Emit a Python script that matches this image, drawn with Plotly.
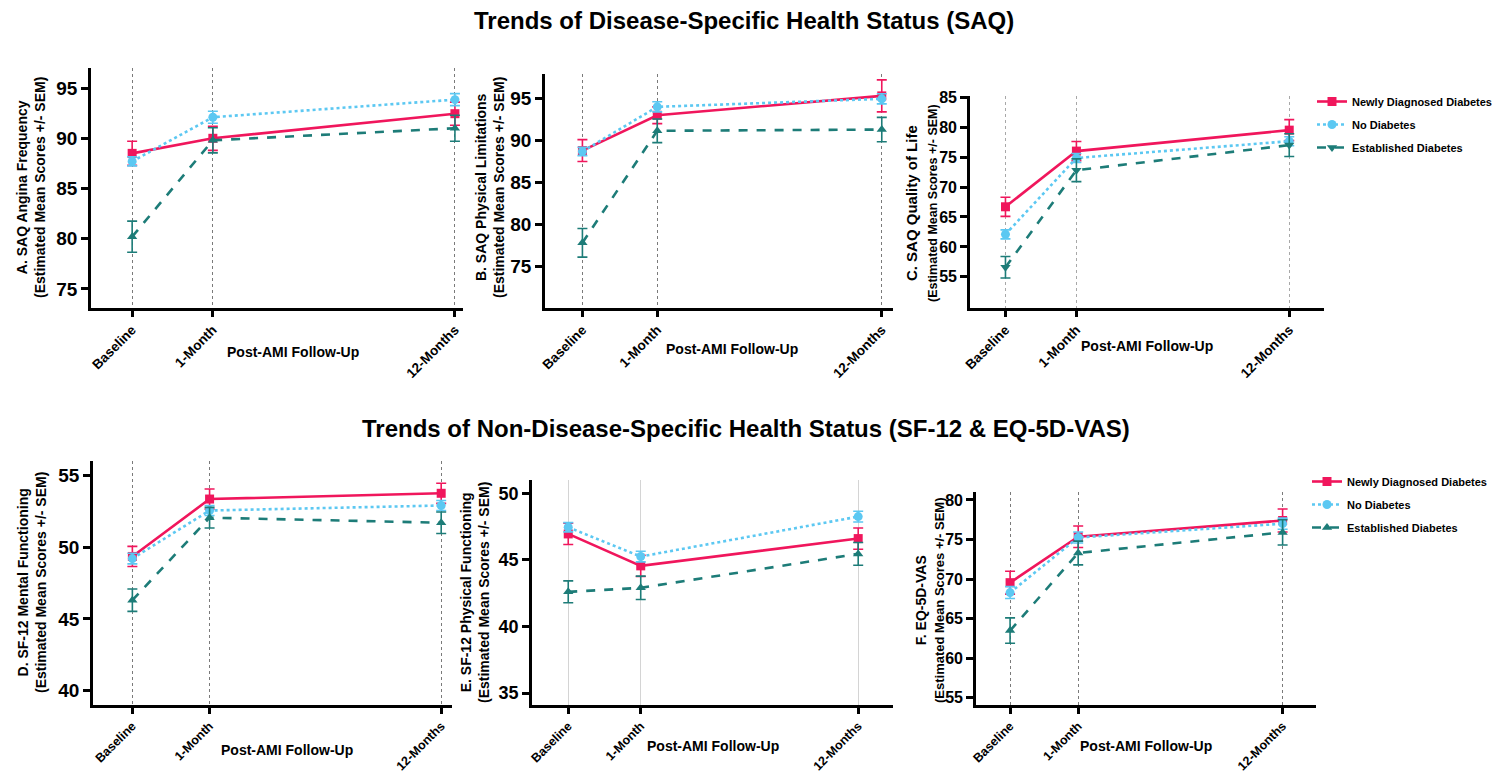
import plotly.graph_objects as go

# ---------------- data ----------------
timepoints = ["Baseline", "1-Month", "12-Months"]
groups = ["Newly Diagnosed Diabetes", "No Diabetes", "Established Diabetes"]

# Panel A: SAQ Angina Frequency
a_new = [88.5, 90.0, 92.45]
a_new_sem = [1.2, 1.2, 1.15]
a_no = [87.7, 92.1, 93.85]
a_no_sem = [0.45, 0.6, 0.6]
a_est = [80.2, 89.8, 91.0]
a_est_sem = [1.55, 1.25, 1.3]

# Panel B: SAQ Physical Limitations
b_new = [88.8, 93.0, 95.3]
b_new_sem = [1.3, 1.0, 1.9]
b_no = [88.7, 94.0, 94.95]
b_no_sem = [0.5, 0.6, 0.6]
b_est = [77.85, 91.15, 91.3]
b_est_sem = [1.7, 1.4, 1.45]

# Panel C: SAQ Quality of Life
c_new = [66.7, 76.0, 79.5]
c_new_sem = [1.6, 1.6, 1.75]
c_no = [62.1, 74.85, 77.65]
c_no_sem = [0.75, 0.75, 0.75]
c_est = [56.6, 72.8, 77.0]
c_est_sem = [1.8, 1.9, 1.9]

# Panel D: SF-12 Mental Functioning
d_new = [49.35, 53.35, 53.75]
d_new_sem = [0.7, 0.7, 0.7]
d_no = [49.2, 52.55, 52.9]
d_no_sem = [0.37, 0.35, 0.35]
d_est = [46.3, 52.05, 51.7]
d_est_sem = [0.78, 0.72, 0.75]

# Panel E: SF-12 Physical Functioning
e_new = [46.95, 44.55, 46.6]
e_new_sem = [0.8, 0.8, 0.8]
e_no = [47.45, 45.25, 48.25]
e_no_sem = [0.35, 0.4, 0.4]
e_est = [42.6, 42.9, 45.45]
e_est_sem = [0.82, 0.88, 0.85]

# Panel F: EQ-5D-VAS
f_new = [69.55, 75.35, 77.4]
f_new_sem = [1.45, 1.35, 1.45]
f_no = [68.3, 75.25, 77.0]
f_no_sem = [0.75, 0.7, 0.7]
f_est = [63.5, 73.3, 75.9]
f_est_sem = [1.6, 1.5, 1.6]

# ---------------- styling / layout helpers ----------------
W, H = 1496, 778
FONT = "Liberation Sans, Arial, sans-serif"
RED = "#F0165C"
BLUE = "#5CC8F2"
TEAL = "#1D7C78"
X_POS = [0, 1, 4]  # axis placement of the three follow-up times


def px(x):
    return x / W


def py(y):
    return 1 - y / H


panels = [
    dict(key="A", vals=[(a_new, a_new_sem), (a_no, a_no_sem), (a_est, a_est_sem)],
         xd=(91, 463), yd=(68, 308), yr=[73.1, 97.0], xr=[-0.51, 4.1], dt=list(range(75, 96, 5)),
         tfs=19, xfs=13.5, grid=("dot", "#7a7a7a"), est_sym="triangle-up", legend=None,
         ytitle=("A. SAQ Angina Frequency", "(Estimated Mean Scores +/- SEM)", 14, 14),
         yt_xy=(31, 188), xt_xy=(293, 352)),
    dict(key="B", vals=[(b_new, b_new_sem), (b_no, b_no_sem), (b_est, b_est_sem)],
         xd=(545, 893), yd=(74, 308), yr=[70.1, 97.9], xr=[-0.5, 4.15], dt=list(range(75, 96, 5)),
         tfs=19, xfs=13.5, grid=("dot", "#7a7a7a"), est_sym="triangle-up", legend=None,
         ytitle=("B. SAQ Physical Limitations", "(Estimated Mean Scores +/- SEM)", 14, 14),
         yt_xy=(490, 187), xt_xy=(732, 349)),
    dict(key="C", vals=[(c_new, c_new_sem), (c_no, c_no_sem), (c_est, c_est_sem)],
         xd=(970, 1324), yd=(96, 308), yr=[49.8, 85.2], xr=[-0.5, 4.49], dt=list(range(55, 86, 5)),
         tfs=16, xfs=13.5, grid=("dot", "#a8a8a8"), est_sym="triangle-down", legend="legend",
         ytitle=("C. SAQ Quality of Life", "(Estimated Mean Scores +/- SEM)", 15, 12.5),
         yt_xy=(922, 203), xt_xy=(1147, 346)),
    dict(key="D", vals=[(d_new, d_new_sem), (d_no, d_no_sem), (d_est, d_est_sem)],
         xd=(93, 452), yd=(461, 705), yr=[39.0, 56.0], xr=[-0.51, 4.14], dt=list(range(40, 56, 5)),
         tfs=19, xfs=12.5, grid=("dot", "#7a7a7a"), est_sym="triangle-up", legend=None,
         ytitle=("D. SF-12 Mental Functioning", "(Estimated Mean Scores +/- SEM)", 14, 14),
         yt_xy=(32, 583), xt_xy=(287, 750)),
    dict(key="E", vals=[(e_new, e_new_sem), (e_no, e_no_sem), (e_est, e_est_sem)],
         xd=(532, 893), yd=(480, 705), yr=[34.1, 51.0], xr=[-0.5, 4.48], dt=list(range(35, 51, 5)),
         tfs=18, xfs=12.5, grid=("solid", "#d4d4d4"), est_sym="triangle-up", legend=None,
         ytitle=("E. SF-12 Physical Functioning", "(Estimated Mean Scores +/- SEM)", 14, 14),
         yt_xy=(475, 593), xt_xy=(713, 746)),
    dict(key="F", vals=[(f_new, f_new_sem), (f_no, f_no_sem), (f_est, f_est_sem)],
         xd=(976, 1316), yd=(492, 705), yr=[54.1, 81.0], xr=[-0.5, 4.49], dt=list(range(55, 81, 5)),
         tfs=16, xfs=12.5, grid=("dot", "#7a7a7a"), est_sym="triangle-up", legend="legend2",
         ytitle=("F. EQ-5D-VAS", "(Estimated Mean Scores +/- SEM)", 14, 13),
         yt_xy=(930, 600), xt_xy=(1146, 746)),
]

fig = go.Figure()
annotations = []
layout_axes = {}

for i, p in enumerate(panels):
    n = i + 1
    xa = "x" if n == 1 else f"x{n}"
    ya = "y" if n == 1 else f"y{n}"
    xkey = "xaxis" if n == 1 else f"xaxis{n}"
    ykey = "yaxis" if n == 1 else f"yaxis{n}"

    styles = [
        (RED, "solid", "square", groups[0]),
        (BLUE, "dot", "circle", groups[1]),
        (TEAL, "dash", p["est_sym"], groups[2]),
    ]
    for j, ((vals, sem), (col, dash, sym, name)) in enumerate(zip(p["vals"], styles)):
        tr = dict(
            x=X_POS, y=vals, xaxis=xa, yaxis=ya, name=name,
            mode="lines+markers",
            line=dict(color=col, width=2.6, dash=dash),
            marker=dict(color=col, symbol=sym, size=9),
            error_y=dict(type="data", array=sem, visible=True, color=col, thickness=1.6, width=5),
            showlegend=p["legend"] is not None,
            legendgroup=f"{p['key']}{j}",
        )
        if p["legend"] is not None:
            tr["legend"] = p["legend"]
        fig.add_trace(go.Scatter(**tr))

    layout_axes[xkey] = dict(
        domain=[px(p["xd"][0]), px(p["xd"][1])], range=p["xr"], anchor=ya,
        tickmode="array", tickvals=X_POS, ticktext=timepoints, tickangle=-45,
        tickfont=dict(family=FONT, size=p["xfs"], color="black", weight="bold"),
        showline=True, linecolor="black", linewidth=2.6,
        ticks="outside", ticklen=6, tickwidth=2.6, tickcolor="black",
        showgrid=True, griddash=p["grid"][0], gridcolor=p["grid"][1], gridwidth=1.2,
        zeroline=False, fixedrange=True, automargin=False,
    )
    layout_axes[ykey] = dict(
        domain=[py(p["yd"][1]), py(p["yd"][0])], range=p["yr"], anchor=xa,
        tickmode="array", tickvals=p["dt"],
        tickfont=dict(family=FONT, size=p["tfs"], color="black", weight="bold"),
        showline=True, linecolor="black", linewidth=2.6,
        ticks="outside", ticklen=7, tickwidth=2.6, tickcolor="black",
        showgrid=False, zeroline=False, fixedrange=True, automargin=False,
    )

    l1, l2, s1, s2 = p["ytitle"]
    annotations.append(dict(
        text=f"<b>{l1}</b><br><span style='font-size:{s2}px'><b>{l2}</b></span>",
        x=px(p["yt_xy"][0]), y=py(p["yt_xy"][1]), xref="paper", yref="paper",
        xanchor="center", yanchor="middle", textangle=-90, showarrow=False,
        font=dict(family=FONT, size=s1, color="black"),
    ))
    annotations.append(dict(
        text="<b>Post-AMI Follow-Up</b>",
        x=px(p["xt_xy"][0]), y=py(p["xt_xy"][1]), xref="paper", yref="paper",
        xanchor="center", yanchor="middle", showarrow=False,
        font=dict(family=FONT, size=14, color="black"),
    ))

annotations.append(dict(
    text="<b>Trends of Disease-Specific Health Status (SAQ)</b>",
    x=px(744), y=py(20), xref="paper", yref="paper", xanchor="center", yanchor="middle",
    showarrow=False, font=dict(family="Liberation Sans Narrow, Liberation Sans, Arial", size=24, color="black"),
))
annotations.append(dict(
    text="<b>Trends of Non-Disease-Specific Health Status (SF-12 &amp; EQ-5D-VAS)</b>",
    x=px(746), y=py(428), xref="paper", yref="paper", xanchor="center", yanchor="middle",
    showarrow=False, font=dict(family="Liberation Sans Narrow, Liberation Sans, Arial", size=24, color="black"),
))

legend_common = dict(
    xanchor="left", yanchor="top", bgcolor="rgba(0,0,0,0)", borderwidth=0,
    font=dict(family=FONT, size=11, color="black", weight="bold"),
    itemwidth=30, tracegroupgap=4, traceorder="grouped",
)

fig.update_layout(
    template="none",
    width=W, height=H, autosize=False,
    margin=dict(l=0, r=0, t=0, b=0, pad=0, autoexpand=False),
    paper_bgcolor="white", plot_bgcolor="white",
    annotations=annotations,
    legend=dict(x=px(1312), y=py(87), **legend_common),
    legend2=dict(x=px(1307), y=py(467), **legend_common),
    **layout_axes,
)

fig.write_html("out.html", config={"displayModeBar": False},
               post_script="document.body.style.margin='0px';")
